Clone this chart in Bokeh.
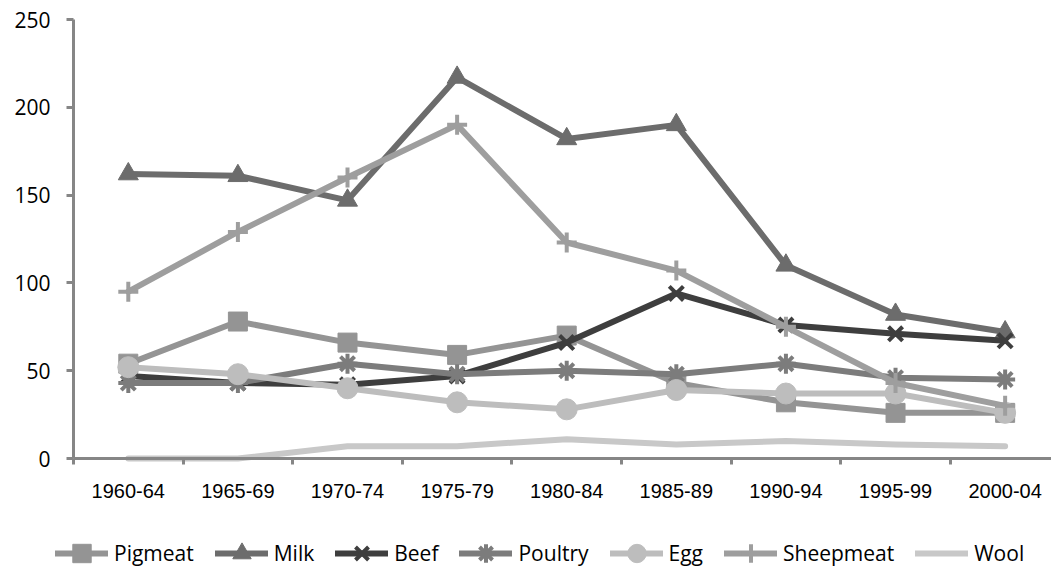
from bokeh.plotting import figure
from bokeh.models import FixedTicker, Legend, LegendItem, Range1d
from bokeh.embed import file_html
from bokeh.resources import INLINE

categories = ["1960-64", "1965-69", "1970-74", "1975-79", "1980-84",
              "1985-89", "1990-94", "1995-99", "2000-04"]

pigmeat   = [54, 78, 66, 59, 70, 43, 32, 26, 26]
milk      = [162, 161, 147, 217, 182, 190, 110, 82, 72]
beef      = [47, 43, 42, 47, 66, 94, 76, 71, 67]
poultry   = [43, 43, 54, 48, 50, 48, 54, 46, 45]
egg       = [52, 48, 40, 32, 28, 39, 37, 37, 26]
sheepmeat = [95, 129, 160, 190, 123, 107, 75, 43, 30]
wool      = [0, 0, 7, 7, 11, 8, 10, 8, 7]

series_names = ["Pigmeat", "Milk", "Beef", "Poultry", "Egg", "Sheepmeat", "Wool"]
y_ticks = [0, 50, 100, 150, 200, 250]

series = [pigmeat, milk, beef, poultry, egg, sheepmeat, wool]
colors = ["#949494", "#6c6c6c", "#3e3e3e", "#7c7c7c", "#bdbdbd", "#9e9e9e", "#c8c8c8"]
markers = ["square", "triangle", "x", "asterisk", "circle", "cross", None]
msizes = [19, 20, 20, 20, 21, 20, 0]

x = list(range(len(categories)))

# whole canvas is the frame; axes sit at fixed locations inside it
p = figure(frame_width=1051, frame_height=569, output_backend="svg", toolbar_location=None,
           x_range=Range1d(-1.166, 8.423), y_range=Range1d(-63.21, 260.82),
           min_border_left=0, min_border_right=0, min_border_top=0,
           min_border_bottom=0)
p.outline_line_color = None
p.grid.visible = False
p.background_fill_color = "white"
p.border_fill_color = "white"

items = []
for name, vals, col, mk, ms in zip(series_names, series, colors, markers, msizes):
    rs = []
    r = p.line(x, vals, line_color=col, line_width=6, line_join="round", line_cap="round")
    rs.append(r)
    if mk is not None:
        if mk in ("x", "asterisk", "cross"):
            s = p.scatter(x, vals, marker=mk, size=ms, line_color=col, line_width=4,
                          fill_color=col)
        else:
            s = p.scatter(x, vals, marker=mk, size=ms, line_color=col, line_width=1,
                          fill_color=col)
        rs.append(s)
    items.append(LegendItem(label=name, renderers=rs))

# axes
ax = p.xaxis[0]
ax.fixed_location = 0
ax.bounds = (-0.5, 9)
ax.ticker = FixedTicker(ticks=x, minor_ticks=[i + 0.5 for i in range(-1, len(categories))])
ax.major_label_overrides = {i: c for i, c in enumerate(categories)}
ax.major_tick_out = 0
ax.major_tick_in = 0
ax.minor_tick_out = 6
ax.minor_tick_in = 0
ax.minor_tick_line_color = "#868686"
ax.minor_tick_line_width = 3
ax.axis_line_color = "#868686"
ax.axis_line_width = 3
ax.major_label_text_font = "Liberation Sans"
ax.major_label_text_font_size = "20px"
ax.major_label_text_color = "black"
ax.major_label_standoff = 19

ay = p.yaxis[0]
ay.fixed_location = -0.5
ay.bounds = (0, 250)
ay.ticker = FixedTicker(ticks=y_ticks)
ay.minor_tick_line_color = None
ay.major_tick_out = 7
ay.major_tick_in = 0
ay.major_tick_line_color = "#868686"
ay.major_tick_line_width = 3
ay.axis_line_color = "#868686"
ay.axis_line_width = 3
ay.major_label_text_font = "Open Sans"
ay.major_label_text_font_size = "21px"
ay.major_label_text_color = "black"
ay.major_label_standoff = 16

legend = Legend(items=items, orientation="horizontal", location=(55, -7),
                glyph_width=53, glyph_height=46, label_standoff=6, spacing=21,
                label_text_font="Open Sans", label_text_font_size="21px",
                label_text_color="black", border_line_color=None,
                background_fill_alpha=0, padding=0, margin=0)
p.add_layout(legend)

open("out.html", "w").write(file_html(p, INLINE))
